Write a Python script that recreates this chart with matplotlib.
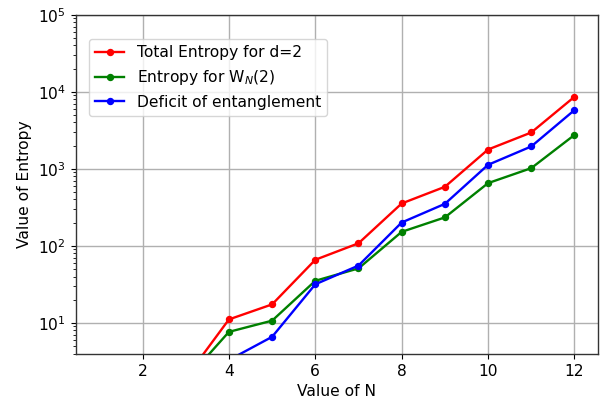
import matplotlib
matplotlib.use("Agg")
import matplotlib.pyplot as plt

N = [1, 2, 3, 4, 5, 6, 7, 8, 9, 10, 11, 12]
total_entropy = [0.7, 1.2, 1.93, 11.1, 17.4, 66, 108, 355, 584, 1780, 2960, 8600]
w_entropy = [0.5, 0.9, 1.8, 7.65, 10.7, 35.2, 51, 152, 234, 652, 1020, 2750]
deficit = [0.2, 0.3, 0.15, 3.3, 6.6, 31.7, 55.5, 201, 351, 1127, 1950, 5780]

plt.rcParams['font.size'] = 11.2

fig = plt.figure(figsize=(6.0, 4.03), dpi=100)
ax = fig.add_axes([0.126, 0.1216, 0.871, 0.8419])

ax.plot(N, total_entropy, color='red', marker='o', markersize=4.3, linewidth=1.7, label='Total Entropy for d=2')
ax.plot(N, w_entropy, color='green', marker='o', markersize=4.3, linewidth=1.7, label=r'Entropy for W$_N$(2)')
ax.plot(N, deficit, color='blue', marker='o', markersize=4.3, linewidth=1.7, label='Deficit of entanglement')

ax.set_yscale('log')
ax.set_ylim(3.95, 1e5)
ax.set_xlim(0.45, 12.55)
ax.set_xticks([2, 4, 6, 8, 10, 12])
ax.grid(True, which='major', color='#b0b0b0', linewidth=1.0)
for s in ax.spines.values():
    s.set_color('#333333')
    s.set_linewidth(1.0)
ax.set_xlabel('Value of N')
ax.set_ylabel('Value of Entropy')
ax.legend(loc='upper left', bbox_to_anchor=(0.025, 0.928), borderaxespad=0,
          borderpad=0.4, handlelength=1.9)

fig.savefig('out.png', dpi=100)
